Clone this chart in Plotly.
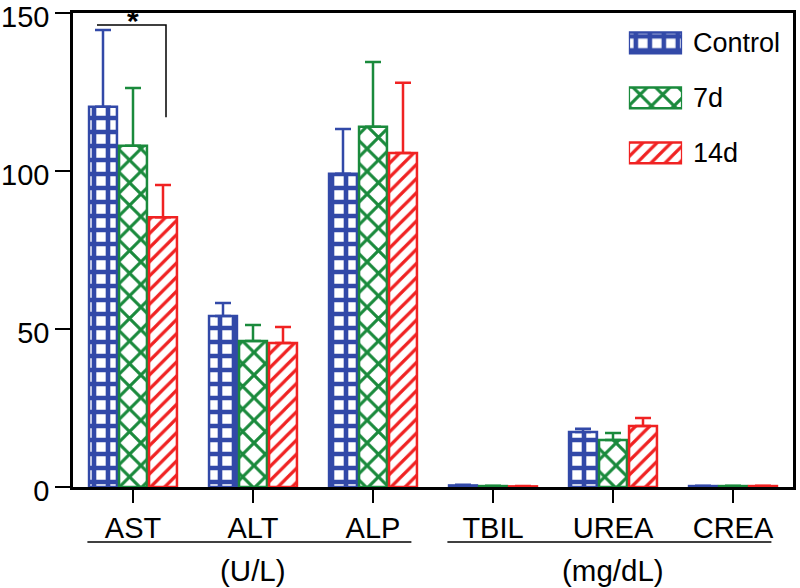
import plotly.graph_objects as go

# ---- data ----
categories = ["AST", "ALT", "ALP", "TBIL", "UREA", "CREA"]
series_names = ["Control", "7d", "14d"]
control = [120.3, 54.1, 99.1, 0.5, 17.4, 0.3]
control_err = [24.3, 4.1, 14.2, 0.2, 1.0, 0.1]
d7 = [108.0, 46.2, 114.0, 0.3, 14.9, 0.3]
d7_err = [18.3, 5.1, 20.5, 0.1, 2.2, 0.1]
d14 = [85.4, 45.6, 105.7, 0.2, 19.3, 0.3]
d14_err = [10.2, 5.0, 22.2, 0.1, 2.5, 0.1]
unit_labels = ["(U/L)", "(mg/dL)"]
unit_spans = [(0, 2), (3, 5)]
y_ticks = [0, 50, 100, 150]
sig_pair = (0, 2)  # AST: Control vs 14d
sig_top, sig_bottom = 146.2, 117.0

colors = ["#3249A8", "#1A8A3C", "#F02222"]
shapes_p = ["+", "x", "/"]
sizes_p = [14, 16, 10]
solid_p = [0.55, 0.35, 0.32]
FONT = "Liberation Sans, Arial, sans-serif"

fig = go.Figure()
for name, vals, errs, c, sh, sz, so in zip(series_names, [control, d7, d14],
                                         [control_err, d7_err, d14_err],
                                         colors, shapes_p, sizes_p, solid_p):
    fig.add_trace(go.Bar(
        x=categories, y=vals, name=name, showlegend=False,
        marker=dict(color="white", line=dict(color=c, width=2.5),
                    pattern=dict(shape=sh, fgcolor=c, bgcolor="white",
                                 size=sz, solidity=so, fillmode="replace")),
        error_y=dict(type="data", array=errs, arrayminus=[0] * len(errs),
                     symmetric=False, color=c, thickness=2.5, width=8),
    ))

# custom legend drawn as bars on an overlay axis
fig.add_trace(go.Bar(
    x=[1, 1, 1], y=series_names, orientation="h", base=0, width=0.38,
    xaxis="x2", yaxis="y2", showlegend=False, hoverinfo="skip",
    marker=dict(color="white", line=dict(color=colors, width=2.5),
                pattern=dict(shape=shapes_p, fgcolor=colors, bgcolor="white",
                             size=sizes_p, solidity=solid_p,
                             fillmode="replace")),
))

annotations = []
for i, n in enumerate(series_names):
    annotations.append(dict(x=0.858, xref="paper", y=i, yref="y2", text=n,
                            showarrow=False, xanchor="left", yanchor="middle",
                            font=dict(size=27, family=FONT, color="black")))

shapes = []
for (a, b), lab in zip(unit_spans, unit_labels):
    x0, x1 = a - 0.38, b + 0.32
    shapes.append(dict(type="line", xref="x", yref="paper", x0=x0, x1=x1,
                       y0=-0.116, y1=-0.116, line=dict(color="black", width=1.5)))
    annotations.append(dict(x=(a + b) / 2, xref="x", y=-0.177, yref="paper",
                            text=lab, showarrow=False, xanchor="center",
                            yanchor="middle",
                            font=dict(size=29.5, family=FONT, color="black")))

# significance bracket
bx0 = sig_pair[0] - 0.3
bx1 = sig_pair[0] + 0.275
shapes.append(dict(type="path", xref="x", yref="y",
                   path=f"M {bx0} {sig_top} L {bx1} {sig_top} L {bx1} {sig_bottom}",
                   line=dict(color="black", width=1.5)))
annotations.append(dict(x=sig_pair[0], xref="x", y=sig_top + 1.5, yref="y", text="<b>*</b>",
                        showarrow=False, yanchor="middle",
                        font=dict(size=30, family=FONT, color="black")))

fig.update_layout(
    width=800, height=588,
    margin=dict(l=73, r=7, t=13, b=101),
    paper_bgcolor="white", plot_bgcolor="white",
    barmode="group", bargap=0.25, bargroupgap=0.07,
    font=dict(family=FONT, size=27, color="black"),
    shapes=shapes, annotations=annotations,
    xaxis=dict(type="category", range=[-0.5, 5.5], showline=True,
               linecolor="black", linewidth=2.5, mirror=True, automargin=False,
               ticks="outside", ticklen=13, tickwidth=2, tickcolor="black",
               showgrid=False, zeroline=False, tickfont=dict(size=29)),
    yaxis=dict(range=[0, 150], tickvals=y_ticks, showline=True,
               linecolor="black", linewidth=2.5, mirror=True, automargin=False,
               ticks="outside", ticklen=15, tickwidth=2, tickcolor="black",
               showgrid=False, zeroline=False, tickfont=dict(size=29),
               ticklabeloverflow="allow", ticklabelshift=4),
    xaxis2=dict(domain=[0.772, 0.846], range=[0, 1], visible=False,
                anchor="y2", fixedrange=True, automargin=False),
    yaxis2=dict(domain=[0.647, 0.995], type="category", range=[2.5, -0.5],
                visible=False, anchor="x2", fixedrange=True, automargin=False),
)

fig.write_html("out.html", post_script="document.body.style.margin='0';",
               config={"displayModeBar": False})
